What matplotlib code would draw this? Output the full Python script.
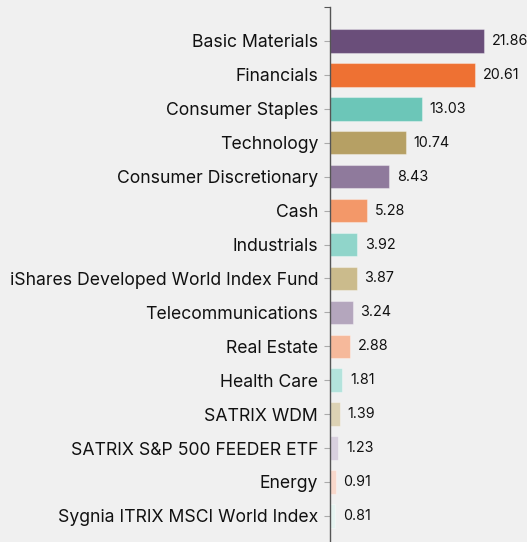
import numpy as np
import matplotlib.pyplot as plt
from matplotlib.ticker import FixedLocator

# sector allocation (%)
sectors = ["Basic Materials", "Financials", "Consumer Staples", "Technology",
           "Consumer Discretionary", "Cash", "Industrials",
           "iShares Developed World Index Fund", "Telecommunications",
           "Real Estate", "Health Care", "SATRIX WDM",
           "SATRIX S&P 500 FEEDER ETF", "Energy", "Sygnia ITRIX MSCI World Index"]
weights = [21.86, 20.61, 13.03, 10.74, 8.43, 5.28, 3.92, 3.87, 3.24,
           2.88, 1.81, 1.39, 1.23, 0.91, 0.81]

colors = ["#6a4e7a", "#ee7133", "#6cc6b8", "#b6a064",
          "#8f7a9c", "#f39869", "#90d5ca", "#cbbb8c",
          "#b4a6bd", "#f6b99b", "#b3e3dc", "#dcd2b4",
          "#d8d0de", "#f8d8cb", "#e6f4f1"]

bg = "#f0f0f0"
plt.rcParams['font.family'] = ['Inter', 'DejaVu Sans']

fig = plt.figure(figsize=(5.27, 5.42), dpi=100, facecolor=bg)
ax = fig.add_axes([0.6256, 0.0, 0.3744, 0.987], facecolor=bg)

y = np.arange(len(sectors))
bars = ax.barh(y, weights, height=0.69, color=colors, linewidth=0.8)
for b in bars:
    b.set_edgecolor((1, 1, 1, 0.35))

for yi, w in zip(y, weights):
    ax.text(w + 1.05, yi, f"{w:.2f}", va="center", ha="left",
            fontsize=10.3, color="#111111")

ax.set_xlim(0, 27.9)
ax.set_ylim(14.77, -1.0)
ax.set_yticks(y)
ax.set_yticklabels(sectors, fontsize=12.7, color="#111111")
ax.yaxis.set_minor_locator(FixedLocator([-1.0]))
ax.tick_params(axis="y", which="major", length=4.3, width=0.8,
               color="#aaaaaa", pad=4)
ax.tick_params(axis="y", which="minor", length=4.3, width=0.8,
               color="#555555")
ax.set_xticks([])
for s in ["top", "right", "bottom"]:
    ax.spines[s].set_visible(False)
ax.spines["left"].set_color("#555555")
ax.spines["left"].set_linewidth(1.0)

plt.savefig("out.png", dpi=100, facecolor=bg)
